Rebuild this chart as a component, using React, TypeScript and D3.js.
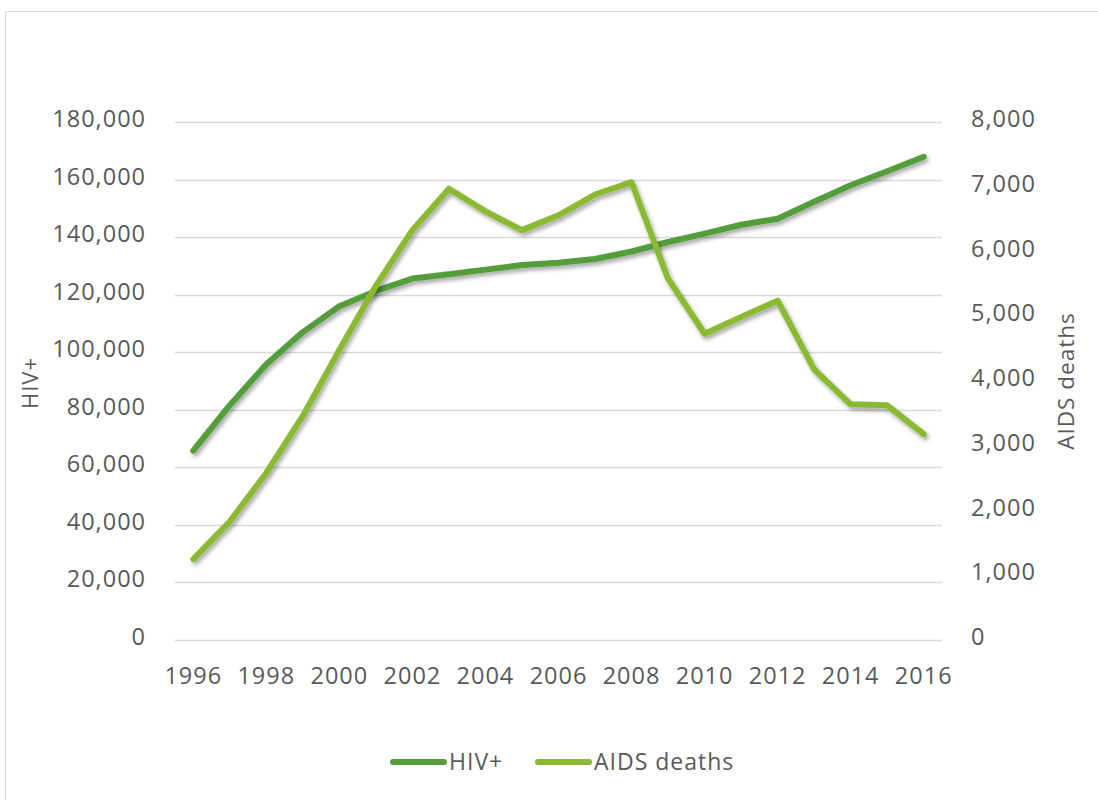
import React, { useEffect, useRef } from "react";
import * as d3 from "d3";

// Yearly series
const years: string[] = [
  "1996", "1997", "1998", "1999", "2000", "2001", "2002", "2003", "2004", "2005", "2006",
  "2007", "2008", "2009", "2010", "2011", "2012", "2013", "2014", "2015", "2016",
];
const hivPositive: number[] = [
  65800, 81600, 95800, 107000, 116000, 121300, 125600, 127100, 128700, 130300, 131100,
  132400, 135000, 138300, 141200, 144300, 146400, 152300, 158000, 162900, 167900,
];
const aidsDeaths: number[] = [
  1250, 1830, 2580, 3460, 4480, 5470, 6330, 6970, 6620, 6330, 6560,
  6880, 7070, 5580, 4730, 4990, 5240, 4180, 3640, 3625, 3180,
];
const leftTicks: number[] = [0, 20000, 40000, 60000, 80000, 100000, 120000, 140000, 160000, 180000];
const rightTicks: number[] = [0, 1000, 2000, 3000, 4000, 5000, 6000, 7000, 8000];
const tickYears: string[] = ["1996", "1998", "2000", "2002", "2004", "2006", "2008", "2010", "2012", "2014", "2016"];

const W = 1098;
const H = 800;
const FONT = "'Open Sans', sans-serif";
const TEXT = "#595959";
const DARK = "#529E3A";
const LIGHT = "#8BB933";

export default function App() {
  const ref = useRef<SVGSVGElement | null>(null);

  useEffect(() => {
    const svg = d3.select(ref.current);
    svg.selectAll("*").remove();

    const plot = { left: 175, right: 942, top: 122, bottom: 640 };

    const x = d3.scaleBand<string>().domain(years).range([plot.left, plot.right]);
    const cx = (d: string) => (x(d) as number) + x.bandwidth() / 2;
    const yL = d3.scaleLinear().domain([0, 180000]).range([plot.bottom, plot.top]);
    const yR = d3.scaleLinear().domain([0, 8000]).range([plot.bottom, plot.top]);
    const fmt = d3.format(",");

    const defs = svg.append("defs");
    const f = defs.append("filter").attr("id", "shadow").attr("x", "-10%").attr("y", "-10%")
      .attr("width", "120%").attr("height", "130%");
    f.append("feDropShadow").attr("dx", 2).attr("dy", 3).attr("stdDeviation", 2)
      .attr("flood-color", "#000").attr("flood-opacity", 0.35);

    // frame
    svg.append("rect").attr("x", 5.5).attr("y", 11.5).attr("width", W + 20).attr("height", H + 20)
      .attr("fill", "#fff").attr("stroke", "#d9d9d9").attr("stroke-width", 1);

    // gridlines
    svg.append("g").selectAll("line").data(leftTicks).join("line")
      .attr("x1", plot.left).attr("x2", plot.right)
      .attr("y1", (d) => Math.round(yL(d)) + 0.5).attr("y2", (d) => Math.round(yL(d)) + 0.5)
      .attr("stroke", "#d9d9d9").attr("stroke-width", 1.5);

    // left tick labels
    svg.append("g").selectAll("text").data(leftTicks).join("text")
      .attr("x", 146).attr("y", (d) => yL(d) + 5)
      .attr("text-anchor", "end").attr("font-family", FONT).attr("font-size", 23.5)
      .attr("letter-spacing", 1).attr("fill", TEXT).text((d) => fmt(d));

    // right tick labels
    svg.append("g").selectAll("text").data(rightTicks).join("text")
      .attr("x", 971).attr("y", (d) => yR(d) + 5)
      .attr("text-anchor", "start").attr("font-family", FONT).attr("font-size", 23.5)
      .attr("letter-spacing", 1).attr("fill", TEXT).text((d) => fmt(d));

    // x tick labels
    svg.append("g").selectAll("text").data(tickYears).join("text")
      .attr("x", (d) => cx(d)).attr("y", 684)
      .attr("text-anchor", "middle").attr("font-family", FONT).attr("font-size", 23.5)
      .attr("letter-spacing", 1).attr("fill", TEXT).text((d) => d);

    // axis titles
    svg.append("text").attr("transform", "translate(38,383) rotate(-90)")
      .attr("text-anchor", "middle").attr("font-family", FONT).attr("font-size", 22)
      .attr("letter-spacing", 1).attr("fill", TEXT).text("HIV+");
    svg.append("text").attr("transform", "translate(1074,381) rotate(-90)")
      .attr("text-anchor", "middle").attr("font-family", FONT).attr("font-size", 22.5)
      .attr("letter-spacing", 1).attr("fill", TEXT).text("AIDS deaths");

    // series lines
    const lineL = d3.line<number>().x((_, i) => cx(years[i])).y((d) => yL(d));
    const lineR = d3.line<number>().x((_, i) => cx(years[i])).y((d) => yR(d));

    svg.append("path").datum(hivPositive).attr("d", lineL).attr("fill", "none")
      .attr("stroke", DARK).attr("stroke-width", 6).attr("stroke-linecap", "round")
      .attr("stroke-linejoin", "round").attr("filter", "url(#shadow)");
    svg.append("path").datum(aidsDeaths).attr("d", lineR).attr("fill", "none")
      .attr("stroke", LIGHT).attr("stroke-width", 6).attr("stroke-linecap", "round")
      .attr("stroke-linejoin", "round").attr("filter", "url(#shadow)");

    // legend
    const legend = [
      { name: "HIV+", color: DARK, x: 393 },
      { name: "AIDS deaths", color: LIGHT, x: 538 },
    ];
    const lg = svg.append("g").selectAll("g").data(legend).join("g");
    lg.append("line").attr("x1", (d) => d.x).attr("x2", (d) => d.x + 51)
      .attr("y1", 762).attr("y2", 762).attr("stroke", (d) => d.color)
      .attr("stroke-width", 6).attr("stroke-linecap", "round");
    lg.append("text").attr("x", (d) => d.x + 56).attr("y", 770)
      .attr("font-family", FONT).attr("font-size", 23).attr("letter-spacing", 1)
      .attr("fill", TEXT).text((d) => d.name);
  }, []);

  return (
    <svg ref={ref} width={W} height={H}
      style={{ position: "absolute", left: 0, top: 0, background: "#fff" }} />
  );
}
